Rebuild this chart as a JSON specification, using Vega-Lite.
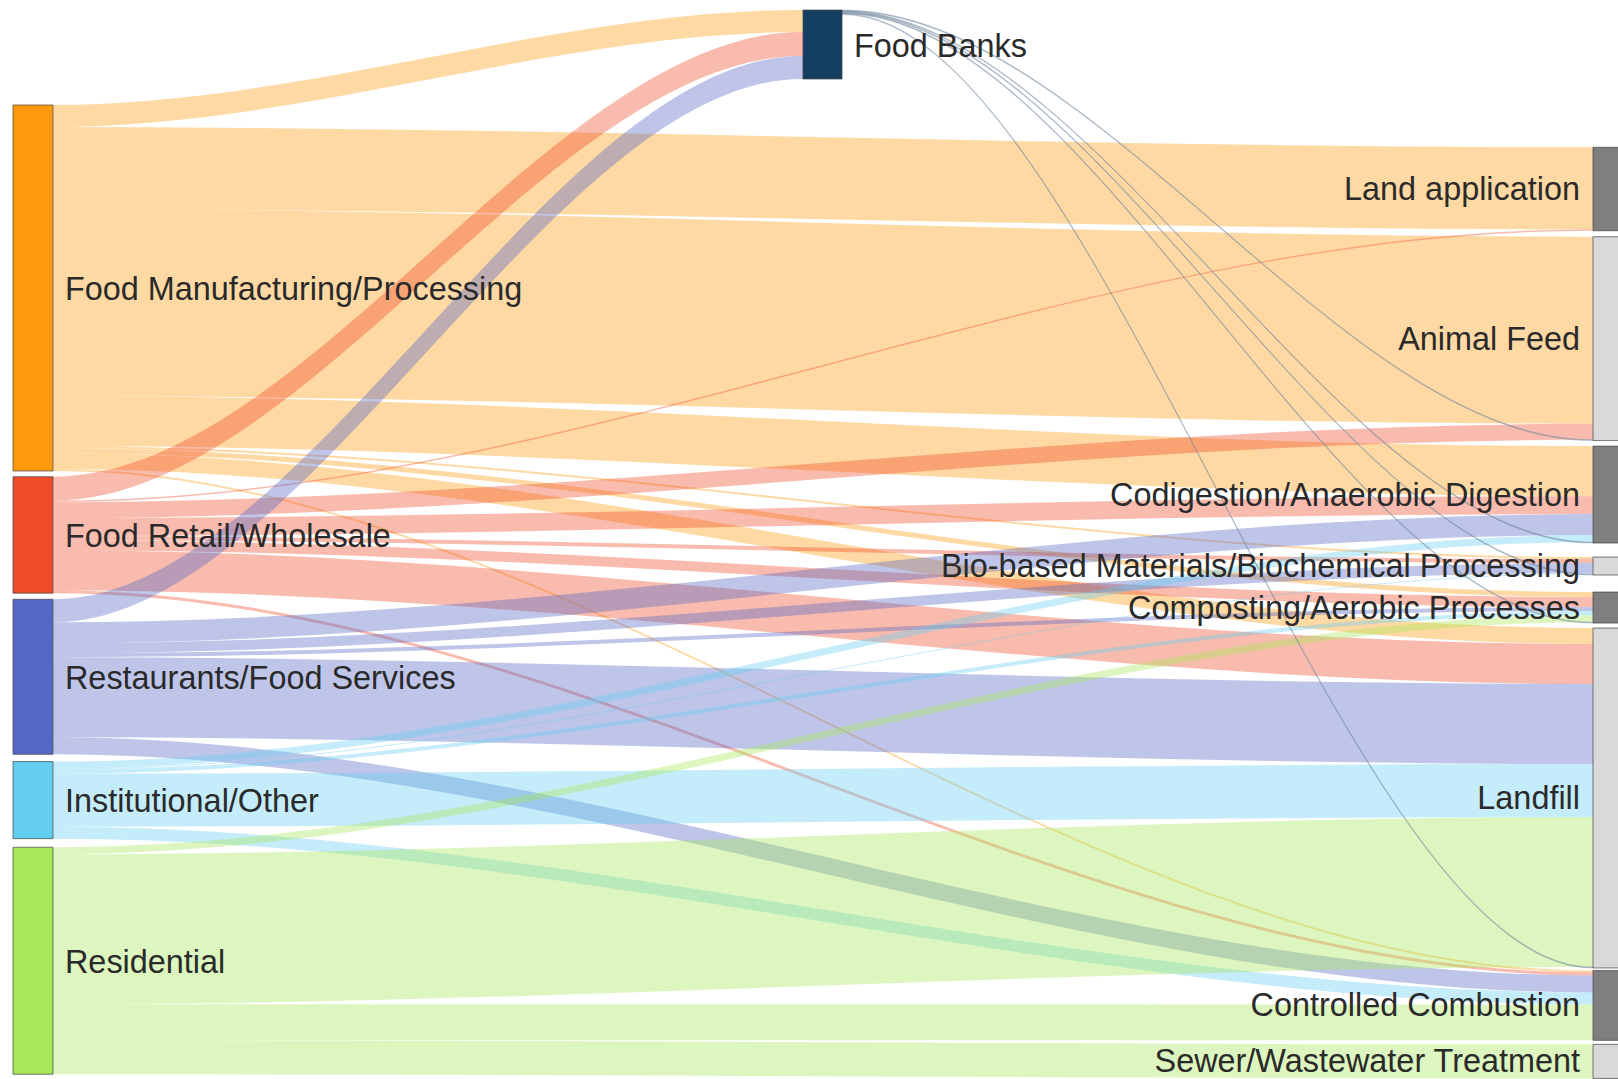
{
  "$schema": "https://vega.github.io/schema/vega-lite/v6.json",
  "width": 1618,
  "height": 1079,
  "autosize": {"type": "none"},
  "padding": 0,
  "background": "white",
  "config": {"view": {"stroke": null}},
  "datasets": {
    "nodes": [
      {"name": "Food Manufacturing/Processing", "col": 0, "order": 0},
      {"name": "Food Retail/Wholesale", "col": 0, "order": 1},
      {"name": "Restaurants/Food Services", "col": 0, "order": 2},
      {"name": "Institutional/Other", "col": 0, "order": 3},
      {"name": "Residential", "col": 0, "order": 4},
      {"name": "Food Banks", "col": 1, "order": 0},
      {"name": "Land application", "col": 2, "order": 0},
      {"name": "Animal Feed", "col": 2, "order": 1},
      {"name": "Codigestion/Anaerobic Digestion", "col": 2, "order": 2},
      {"name": "Bio-based Materials/Biochemical Processing", "col": 2, "order": 3},
      {"name": "Composting/Aerobic Processes", "col": 2, "order": 4},
      {"name": "Landfill", "col": 2, "order": 5},
      {"name": "Controlled Combustion", "col": 2, "order": 6},
      {"name": "Sewer/Wastewater Treatment", "col": 2, "order": 7}
    ],
    "links": [
      {"source": "Food Manufacturing/Processing", "target": "Food Banks", "value": 2.41},
      {"source": "Food Manufacturing/Processing", "target": "Land application", "value": 8.98},
      {"source": "Food Manufacturing/Processing", "target": "Animal Feed", "value": 20.49},
      {"source": "Food Manufacturing/Processing", "target": "Codigestion/Anaerobic Digestion", "value": 5.48},
      {"source": "Food Manufacturing/Processing", "target": "Bio-based Materials/Biochemical Processing", "value": 0.22},
      {"source": "Food Manufacturing/Processing", "target": "Composting/Aerobic Processes", "value": 0.55},
      {"source": "Food Manufacturing/Processing", "target": "Landfill", "value": 1.75},
      {"source": "Food Manufacturing/Processing", "target": "Controlled Combustion", "value": 0.22},
      {"source": "Food Retail/Wholesale", "target": "Food Banks", "value": 2.63},
      {"source": "Food Retail/Wholesale", "target": "Land application", "value": 0.16},
      {"source": "Food Retail/Wholesale", "target": "Animal Feed", "value": 1.75},
      {"source": "Food Retail/Wholesale", "target": "Codigestion/Anaerobic Digestion", "value": 1.97},
      {"source": "Food Retail/Wholesale", "target": "Bio-based Materials/Biochemical Processing", "value": 0.44},
      {"source": "Food Retail/Wholesale", "target": "Composting/Aerobic Processes", "value": 1.10},
      {"source": "Food Retail/Wholesale", "target": "Landfill", "value": 4.38},
      {"source": "Food Retail/Wholesale", "target": "Controlled Combustion", "value": 0.33},
      {"source": "Restaurants/Food Services", "target": "Food Banks", "value": 2.52},
      {"source": "Restaurants/Food Services", "target": "Codigestion/Anaerobic Digestion", "value": 2.30},
      {"source": "Restaurants/Food Services", "target": "Bio-based Materials/Biochemical Processing", "value": 1.10},
      {"source": "Restaurants/Food Services", "target": "Composting/Aerobic Processes", "value": 0.44},
      {"source": "Restaurants/Food Services", "target": "Landfill", "value": 8.77},
      {"source": "Restaurants/Food Services", "target": "Controlled Combustion", "value": 1.86},
      {"source": "Institutional/Other", "target": "Codigestion/Anaerobic Digestion", "value": 0.77},
      {"source": "Institutional/Other", "target": "Bio-based Materials/Biochemical Processing", "value": 0.11},
      {"source": "Institutional/Other", "target": "Composting/Aerobic Processes", "value": 0.44},
      {"source": "Institutional/Other", "target": "Landfill", "value": 5.81},
      {"source": "Institutional/Other", "target": "Controlled Combustion", "value": 1.31},
      {"source": "Residential", "target": "Composting/Aerobic Processes", "value": 0.77},
      {"source": "Residential", "target": "Landfill", "value": 16.43},
      {"source": "Residential", "target": "Controlled Combustion", "value": 3.94},
      {"source": "Residential", "target": "Sewer/Wastewater Treatment", "value": 3.73},
      {"source": "Food Banks", "target": "Animal Feed", "value": 0.1},
      {"source": "Food Banks", "target": "Codigestion/Anaerobic Digestion", "value": 0.1},
      {"source": "Food Banks", "target": "Bio-based Materials/Biochemical Processing", "value": 0.1},
      {"source": "Food Banks", "target": "Composting/Aerobic Processes", "value": 0.1},
      {"source": "Food Banks", "target": "Landfill", "value": 0.1}
    ]
  },
  "data": {"name": "links"},
  "transform": [
    {"lookup": "source", "from": {"data": {"name": "nodes"}, "key": "name"}, "as": "sNode"},
    {"lookup": "target", "from": {"data": {"name": "nodes"}, "key": "name"}, "as": "tNode"},
    {"calculate": "datum.sNode.col", "as": "sCol"},
    {"calculate": "datum.sNode.order", "as": "sOrder"},
    {"calculate": "datum.tNode.col", "as": "tCol"},
    {"calculate": "datum.tNode.order", "as": "tOrder"},
    {"calculate": "datum.value * 9.127", "as": "v"},
    {"window": [{"op": "sum", "field": "v", "as": "sCumI"}], "groupby": ["sCol"], "sort": [{"field": "sOrder"}, {"field": "tCol"}, {"field": "tOrder"}]},
    {"window": [{"op": "sum", "field": "v", "as": "tCumI"}], "groupby": ["tCol"], "sort": [{"field": "tOrder"}, {"field": "sCol"}, {"field": "sOrder"}]},
    {"calculate": "(datum.sCol == 0 ? 105 + [0, 5.7, 11.8, 19.1, 27.7][datum.sOrder] : 10) + datum.sCumI - datum.v", "as": "sY0"},
    {"calculate": "datum.sY0 + datum.v", "as": "sY1"},
    {"calculate": "(datum.tCol == 1 ? 10 : 147.3 + [0, 6, 11.5, 25.5, 42.5, 47.5, 50, 54][datum.tOrder]) + datum.tCumI - datum.v", "as": "tY0"},
    {"calculate": "datum.tY0 + datum.v", "as": "tY1"}
  ],
  "layer": [
    {
      "transform": [
        {"filter": "datum.sCol == 0"},
        {"calculate": "[0, 1, 2, 3]", "as": "pts"},
        {"flatten": ["pts"], "as": ["pt"]},
        {"calculate": "datum.pt == 0 ? datum.sCol + 0.0506 : datum.pt == 1 ? datum.sCol + 0.0516 : datum.pt == 2 ? datum.tCol - 0.001 : datum.tCol", "as": "lx"},
        {"calculate": "datum.pt < 2 ? datum.sY0 : datum.tY0", "as": "ly0"},
        {"calculate": "datum.ly0 + datum.v", "as": "ly1"},
        {"calculate": "datum.source + ' to ' + datum.target", "as": "lid"}
      ],
      "mark": {"type": "area", "interpolate": "monotone", "fillOpacity": 0.38},
      "encoding": {
        "x": {"field": "lx", "type": "quantitative", "scale": {"domain": [-0.016456, 2.031646], "nice": false, "zero": false}, "axis": null},
        "y": {"field": "ly0", "type": "quantitative", "scale": {"domain": [0, 1079], "reverse": true, "nice": false, "zero": false}, "axis": null, "stack": null},
        "y2": {"field": "ly1"},
        "detail": {"field": "lid", "type": "nominal"},
        "color": {
          "field": "source", "type": "nominal", "legend": null,
          "scale": {
            "domain": ["Food Manufacturing/Processing", "Food Retail/Wholesale", "Restaurants/Food Services", "Institutional/Other", "Residential", "Food Banks", "Land application", "Animal Feed", "Codigestion/Anaerobic Digestion", "Bio-based Materials/Biochemical Processing", "Composting/Aerobic Processes", "Landfill", "Controlled Combustion", "Sewer/Wastewater Treatment"],
            "range": ["#FF9A0F", "#EE4B2B", "#5466C6", "#63CEF1", "#A6E858", "#143F62", "#7F7F7F", "#D9D9D9", "#7F7F7F", "#D9D9D9", "#7F7F7F", "#D9D9D9", "#7F7F7F", "#D9D9D9"]
          }
        }
      }
    },
    {
      "transform": [
        {"filter": "datum.sCol == 1"},
        {"calculate": "[0, 1, 2, 3]", "as": "pts"},
        {"flatten": ["pts"], "as": ["pt"]},
        {"calculate": "datum.pt == 0 ? datum.sCol + 0.0494 : datum.pt == 1 ? datum.sCol + 0.0504 : datum.pt == 2 ? datum.tCol - 0.001 : datum.tCol", "as": "lx"},
        {"calculate": "datum.pt < 2 ? datum.sY0 : datum.tY0", "as": "ly0"},
        {"calculate": "datum.ly0 + datum.v", "as": "ly1"},
        {"calculate": "datum.source + ' to ' + datum.target", "as": "lid"}
      ],
      "mark": {"type": "area", "interpolate": "monotone", "color": "#6a8299", "fillOpacity": 0.4, "stroke": "#6a8299", "strokeWidth": 0.8, "strokeOpacity": 0.45},
      "encoding": {
        "x": {"field": "lx", "type": "quantitative", "scale": {"domain": [-0.016456, 2.031646], "nice": false, "zero": false}, "axis": null},
        "y": {"field": "ly0", "type": "quantitative", "scale": {"domain": [0, 1079], "reverse": true, "nice": false, "zero": false}, "axis": null, "stack": null},
        "y2": {"field": "ly1"},
        "detail": {"field": "lid", "type": "nominal"}
      }
    },
    {
      "transform": [
        {"filter": "datum.sCol == 0"},
        {"aggregate": [{"op": "min", "field": "sY0", "as": "y0"}, {"op": "max", "field": "sY1", "as": "y1"}], "groupby": ["source", "sCol"]},
        {"calculate": "datum.sCol + 0.0506", "as": "xr"},
        {"calculate": "(datum.y0 + datum.y1) / 2", "as": "ym"}
      ],
      "layer": [
        {
          "mark": {"type": "rect", "stroke": "#444444", "strokeWidth": 1, "strokeOpacity": 0.7},
          "encoding": {
            "x": {"field": "sCol", "type": "quantitative", "scale": {"domain": [-0.016456, 2.031646], "nice": false, "zero": false}, "axis": null},
            "x2": {"field": "xr"},
            "y": {"field": "y0", "type": "quantitative", "scale": {"domain": [0, 1079], "reverse": true, "nice": false, "zero": false}, "axis": null},
            "y2": {"field": "y1"},
            "color": {"field": "source", "type": "nominal", "legend": null}
          }
        },
        {
          "mark": {"type": "text", "align": "left", "baseline": "middle", "dx": 12, "dy": 2, "font": "Liberation Sans", "fontSize": 32.4, "color": "#2a2a2a"},
          "encoding": {
            "x": {"field": "xr", "type": "quantitative", "scale": {"domain": [-0.016456, 2.031646], "nice": false, "zero": false}, "axis": null},
            "y": {"field": "ym", "type": "quantitative", "scale": {"domain": [0, 1079], "reverse": true, "nice": false, "zero": false}, "axis": null},
            "text": {"field": "source", "type": "nominal"}
          }
        }
      ]
    },
    {
      "transform": [
        {"filter": "datum.tCol >= 1"},
        {"aggregate": [{"op": "min", "field": "tY0", "as": "y0"}, {"op": "max", "field": "tY1", "as": "y1"}], "groupby": ["target", "tCol"]},
        {"calculate": "datum.tCol + (datum.tCol == 1 ? 0.0494 : 0.0506)", "as": "xr"},
        {"calculate": "(datum.y0 + datum.y1) / 2", "as": "ym"}
      ],
      "layer": [
        {
          "mark": {"type": "rect", "stroke": "#444444", "strokeWidth": 1, "strokeOpacity": 0.7},
          "encoding": {
            "x": {"field": "tCol", "type": "quantitative", "scale": {"domain": [-0.016456, 2.031646], "nice": false, "zero": false}, "axis": null},
            "x2": {"field": "xr"},
            "y": {"field": "y0", "type": "quantitative", "scale": {"domain": [0, 1079], "reverse": true, "nice": false, "zero": false}, "axis": null},
            "y2": {"field": "y1"},
            "color": {"field": "target", "type": "nominal", "legend": null}
          }
        },
        {
          "transform": [{"filter": "datum.tCol == 1"}],
          "mark": {"type": "text", "align": "left", "baseline": "middle", "dx": 12, "dy": 2, "font": "Liberation Sans", "fontSize": 32.4, "color": "#2a2a2a"},
          "encoding": {
            "x": {"field": "xr", "type": "quantitative", "scale": {"domain": [-0.016456, 2.031646], "nice": false, "zero": false}, "axis": null},
            "y": {"field": "ym", "type": "quantitative", "scale": {"domain": [0, 1079], "reverse": true, "nice": false, "zero": false}, "axis": null},
            "text": {"field": "target", "type": "nominal"}
          }
        },
        {
          "transform": [{"filter": "datum.tCol == 2"}],
          "mark": {"type": "text", "align": "right", "baseline": "middle", "dx": -13, "dy": 1, "font": "Liberation Sans", "fontSize": 32.4, "color": "#2a2a2a"},
          "encoding": {
            "x": {"field": "tCol", "type": "quantitative", "scale": {"domain": [-0.016456, 2.031646], "nice": false, "zero": false}, "axis": null},
            "y": {"field": "ym", "type": "quantitative", "scale": {"domain": [0, 1079], "reverse": true, "nice": false, "zero": false}, "axis": null},
            "text": {"field": "target", "type": "nominal"}
          }
        }
      ]
    }
  ]
}
